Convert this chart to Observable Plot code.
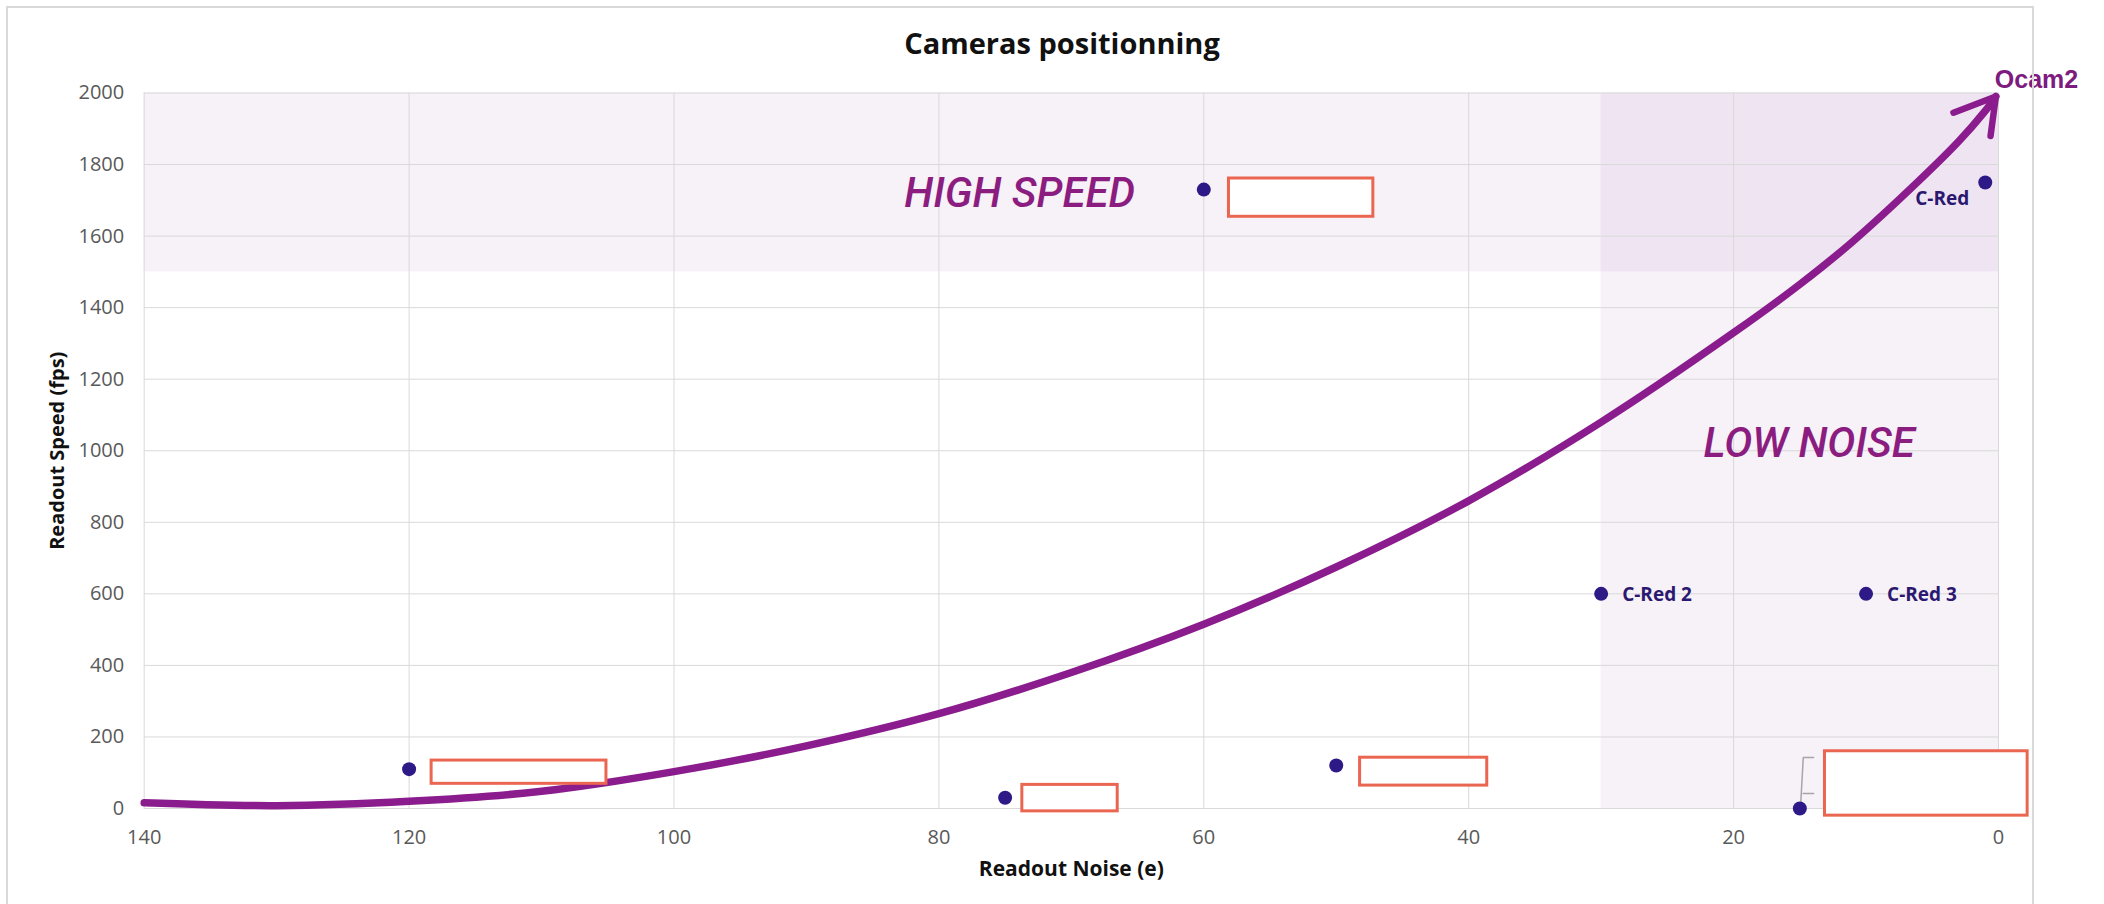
<!DOCTYPE html>
<html>
<head>
<meta charset="utf-8">
<script src="https://cdn.jsdelivr.net/npm/d3@7"></script>
<script src="https://cdn.jsdelivr.net/npm/@observablehq/plot@0.6"></script>
<style>
  html, body { margin: 0; padding: 0; background: #fff; }
  #wrap { position: relative; width: 2104px; height: 904px; overflow: hidden; background: #fff; }
  #title { position: absolute; left: 1062px; top: 24px; transform: translateX(-50%);
           font: 700 29px "Open Sans", sans-serif; line-height: 38px; white-space: nowrap; color: #111; }
  #chart { position: absolute; left: 0; top: 60px; }
  #frame { position: absolute; left: 6px; top: 6px; width: 2028px; height: 1000px;
           border: 2px solid #d9d9d9; box-sizing: border-box; pointer-events: none; }
</style>
</head>
<body>
<div id="wrap">
  <div id="title">Cameras positionning</div>
  <div id="chart"></div>
  <div id="frame"></div>
</div>
<script>
// ---- data ----
const noiseTicks = [140, 120, 100, 80, 60, 40, 20, 0];
const speedTicks = [0, 200, 400, 600, 800, 1000, 1200, 1400, 1600, 1800, 2000];

// camera points (readout noise e, readout speed fps)
const cameraNoise = [120, 75, 60, 50, 30, 15, 10, 1];
const cameraSpeed = [110, 30, 1730, 120, 600, 0, 600, 1750];
const cameraLabel = ["", "", "", "", "C-Red 2", "", "C-Red 3", "C-Red"];

// hand-drawn trend arrow
const trendNoise = [140, 130, 120, 110, 100, 90, 80, 70, 60, 50, 40, 30, 20, 15, 11, 6, 3, 1, 0.2];
const trendSpeed = [16, 8, 20, 48, 103, 175, 265, 380, 515, 675, 860, 1080, 1330, 1465, 1585, 1755, 1865, 1950, 1990];
const headNoise = [3.4, 0.2, 0.6];
const headSpeed = [1945, 1990, 1880];

// shaded zones
const zoneX1 = [140, 30];
const zoneX2 = [0, 0];
const zoneY1 = [1500, 0];
const zoneY2 = [2000, 2000];
const zoneLabel = ["HIGH SPEED", "LOW NOISE"];
const zoneLabelX = [73.9, 14.3];
const zoneLabelY = [1718, 1019];

// redacted label boxes
const boxX1 = [118.3, 73.7, 58.1, 48.2, 13.1];
const boxX2 = [105.1, 66.5, 47.2, 38.6, -2.2];
const boxY1 = [69, -8, 1654, 64, -20];
const boxY2 = [134, 66, 1761, 142, 160];

// leader bracket near the 15 e point
const leaderNoise = [13.96, 14.74, 14.94, 14.75, 13.96];
const leaderSpeed = [142.6, 142.6, 8.4, 42, 42];
const leaderGroup = [0, 0, 0, 1, 1];

// ---- tables ----
const cams = cameraNoise.map((x, i) => ({x, y: cameraSpeed[i], label: cameraLabel[i]}));
const trend = trendNoise.map((x, i) => ({x, y: trendSpeed[i]}));
const head = headNoise.map((x, i) => ({x, y: headSpeed[i]}));
const zones = zoneX1.map((x1, i) => ({x1, x2: zoneX2[i], y1: zoneY1[i], y2: zoneY2[i]}));
const zoneTexts = zoneLabel.map((t, i) => ({t, x: zoneLabelX[i], y: zoneLabelY[i]}));
const boxes = boxX1.map((x1, i) => ({x1, x2: boxX2[i], y1: boxY1[i], y2: boxY2[i]}));
const leader = leaderNoise.map((x, i) => ({x, y: leaderSpeed[i], g: leaderGroup[i]}));

const dotColor = "#2e1a86";
const labelColor = "#2b1870";
const curveColor = "#8a1c8d";
const zoneTextColor = "#8b1d80";

const chart = Plot.plot({
  width: 2104,
  height: 844,
  marginLeft: 143.7,
  marginRight: 106,
  marginTop: 32.5,
  marginBottom: 96,
  style: {background: "transparent", overflow: "visible"},
  x: {domain: [140, 0]},
  y: {domain: [0, 2000]},
  marks: [
    Plot.rect(zones, {x1: "x1", x2: "x2", y1: "y1", y2: "y2", fill: "#8b3a96", fillOpacity: 0.07}),
    Plot.gridX(noiseTicks, {stroke: "#d9d9d9", strokeOpacity: 1, strokeWidth: 1}),
    Plot.gridY(speedTicks, {stroke: "#d9d9d9", strokeOpacity: 1, strokeWidth: 1}),
    Plot.axisX(noiseTicks, {tickSize: 0, tickPadding: 21, fontSize: 20, fontFamily: "Open Sans", fill: "#595959", label: null, tickFormat: d => `${d}`}),
    Plot.axisY(speedTicks, {tickSize: 0, tickPadding: 20, fontSize: 20, fontFamily: "Open Sans", fill: "#595959", label: null, tickFormat: d => `${d}`}),
    Plot.text(["Readout Noise (e)"], {frameAnchor: "bottom", textAnchor: "middle", lineAnchor: "middle", dy: 61, fontSize: 21, fontWeight: 700, fontFamily: "Open Sans", fill: "#111"}),
    Plot.text(["Readout Speed (fps)"], {frameAnchor: "left", textAnchor: "middle", lineAnchor: "middle", rotate: -90, dx: -87, fontSize: 20, fontWeight: 700, fontFamily: "Open Sans", fill: "#111"}),
    Plot.text(zoneTexts, {x: "x", y: "y", text: "t", fontSize: 42, fontStyle: "italic", fontWeight: 500, fontFamily: "Roboto", fill: zoneTextColor}),
    Plot.line(leader, {x: "x", y: "y", z: "g", stroke: "#a6a6a6", strokeWidth: 1.5}),
    Plot.line(trend, {x: "x", y: "y", curve: "catmull-rom", stroke: curveColor, strokeWidth: 7.5, strokeLinecap: "round"}),
    Plot.line(head, {x: "x", y: "y", stroke: curveColor, strokeWidth: 6.5, strokeLinecap: "round", strokeLinejoin: "round"}),
    Plot.text(["Ocam2"], {x: () => -2.87, y: () => 2015, lineAnchor: "bottom", fontSize: 25, fontWeight: 700, fontFamily: "Liberation Sans", fill: "#7d1b7f"}),
    Plot.rect(boxes, {x1: "x1", x2: "x2", y1: "y1", y2: "y2", fill: "white", stroke: "#ea6650", strokeWidth: 3}),
    Plot.dot(cams, {x: "x", y: "y", r: 7, fill: dotColor}),
    Plot.text(cams.filter(d => d.label && d.label !== "C-Red"), {x: "x", y: "y", text: "label", textAnchor: "start", dx: 21, dy: 1, fontSize: 19, fontWeight: 700, fontFamily: "Open Sans", fill: labelColor}),
    Plot.text(cams.filter(d => d.label === "C-Red"), {x: "x", y: "y", text: "label", textAnchor: "end", dx: -16, dy: 16, fontSize: 19, fontWeight: 700, fontFamily: "Open Sans", fill: labelColor})
  ]
});
document.getElementById("chart").appendChild(chart);
</script>
</body>
</html>
